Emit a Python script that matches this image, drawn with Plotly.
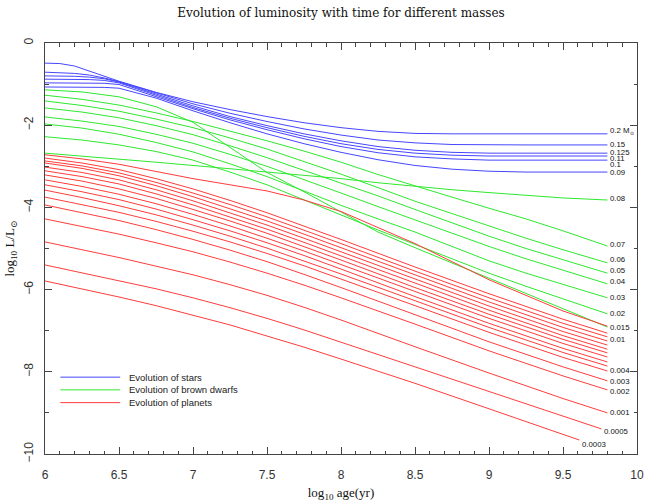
import plotly.graph_objects as go

# ---------------- data ----------------
ages_star = [6.0, 6.1, 6.2, 6.3, 6.4, 6.5, 6.75, 7.0, 7.25, 7.5, 7.75, 8.0, 8.25, 8.5, 8.75, 9.0, 9.25, 9.5, 9.8]
star_masses = ["0.2 M<sub>⊙</sub>", "0.15", "0.125", "0.11", "0.1", "0.09"]
star_lum = [
    [-0.49, -0.50, -0.56, -0.68, -0.81, -0.93, -1.20, -1.43, -1.62, -1.79, -1.94, -2.06, -2.15, -2.20, -2.21, -2.21, -2.21, -2.21, -2.21],
    [-0.71, -0.72, -0.74, -0.78, -0.85, -0.94, -1.21, -1.48, -1.71, -1.91, -2.09, -2.24, -2.36, -2.43, -2.47, -2.48, -2.48, -2.48, -2.48],
    [-0.80, -0.80, -0.81, -0.83, -0.87, -0.95, -1.24, -1.53, -1.79, -2.01, -2.21, -2.38, -2.52, -2.61, -2.66, -2.68, -2.68, -2.68, -2.68],
    [-0.88, -0.88, -0.88, -0.89, -0.91, -0.97, -1.27, -1.57, -1.83, -2.06, -2.27, -2.45, -2.59, -2.68, -2.73, -2.75, -2.75, -2.75, -2.75],
    [-0.97, -0.97, -0.97, -0.97, -0.98, -1.01, -1.30, -1.60, -1.87, -2.11, -2.33, -2.52, -2.67, -2.77, -2.82, -2.85, -2.85, -2.85, -2.85],
    [-1.07, -1.07, -1.07, -1.07, -1.08, -1.10, -1.34, -1.65, -1.94, -2.21, -2.45, -2.66, -2.84, -2.98, -3.07, -3.12, -3.14, -3.14, -3.14],
]
star_label_shift = [3, 0, 1, -2, -4, 0]

ages_bd = [6.0, 6.25, 6.5, 6.75, 7.0, 7.25, 7.5, 7.75, 8.0, 8.25, 8.5, 8.75, 9.0, 9.25, 9.5, 9.8]
bd_masses = ["0.015", "0.07", "0.06", "0.05", "0.04", "0.03", "0.02", "0.08"]
bd_lum = [
    [-1.14, -1.19, -1.31, -1.55, -1.93, -2.55, -3.15, -3.62, -4.12, -4.60, -4.98, -5.35, -5.72, -6.10, -6.47, -6.91],
    [-1.27, -1.37, -1.51, -1.70, -1.91, -2.14, -2.38, -2.63, -2.90, -3.20, -3.48, -3.75, -4.02, -4.28, -4.57, -4.94],
    [-1.41, -1.52, -1.66, -1.85, -2.06, -2.31, -2.58, -2.88, -3.19, -3.52, -3.85, -4.15, -4.45, -4.75, -5.03, -5.35],
    [-1.58, -1.68, -1.82, -2.01, -2.23, -2.50, -2.79, -3.10, -3.40, -3.72, -4.05, -4.38, -4.70, -5.00, -5.28, -5.60],
    [-1.80, -1.90, -2.03, -2.22, -2.44, -2.71, -3.00, -3.32, -3.65, -3.98, -4.30, -4.62, -4.95, -5.25, -5.53, -5.86],
    [-1.97, -2.07, -2.22, -2.42, -2.65, -2.94, -3.25, -3.60, -3.95, -4.28, -4.60, -4.95, -5.30, -5.60, -5.88, -6.20],
    [-2.28, -2.36, -2.48, -2.64, -2.85, -3.14, -3.45, -3.82, -4.20, -4.55, -4.90, -5.25, -5.60, -5.92, -6.23, -6.59],
    [-2.68, -2.75, -2.82, -2.90, -2.98, -3.06, -3.14, -3.22, -3.30, -3.40, -3.49, -3.57, -3.64, -3.71, -3.77, -3.82],
]
bd_label_shift = [0, 2, 3, 3, 2, 0, 0, 2]

ages_pl = [6.0, 6.25, 6.5, 6.75, 7.0, 7.25, 7.5, 7.75, 8.0, 8.5, 9.0, 9.5, 9.8]
ages_pl_0005 = [6.0, 6.25, 6.5, 6.75, 7.0, 7.25, 7.5, 7.75, 8.0, 8.5, 9.0, 9.5, 9.76]
ages_pl_0003 = [6.0, 6.25, 6.5, 6.75, 7.0, 7.25, 7.5, 7.75, 8.0, 8.5, 9.0, 9.5, 9.61]
pl_masses = [None, None, None, "0.01", None, None, None, None, None, None,
             "0.004", "0.003", "0.002", "0.001", "0.0005", "0.0003"]
pl_lum = [
    [-2.72, -2.82, -2.95, -3.12, -3.30, -3.45, -3.60, -3.82, -4.10, -4.88, -5.76, -6.52, -6.89],
    [-2.80, -2.92, -3.08, -3.30, -3.55, -3.83, -4.13, -4.45, -4.78, -5.45, -6.10, -6.72, -7.06],
    [-2.87, -2.99, -3.16, -3.39, -3.65, -3.93, -4.23, -4.55, -4.88, -5.55, -6.20, -6.82, -7.15],
    [-2.92, -3.05, -3.23, -3.47, -3.74, -4.03, -4.33, -4.65, -4.98, -5.65, -6.30, -6.92, -7.25],
    [-3.02, -3.15, -3.33, -3.57, -3.84, -4.13, -4.43, -4.75, -5.08, -5.75, -6.40, -7.02, -7.35],
    [-3.11, -3.25, -3.43, -3.67, -3.94, -4.23, -4.53, -4.85, -5.18, -5.85, -6.50, -7.12, -7.45],
    [-3.21, -3.36, -3.55, -3.78, -4.05, -4.33, -4.63, -4.95, -5.28, -5.95, -6.60, -7.21, -7.54],
    [-3.33, -3.49, -3.68, -3.91, -4.17, -4.45, -4.75, -5.06, -5.39, -6.05, -6.70, -7.31, -7.64],
    [-3.45, -3.62, -3.81, -4.04, -4.30, -4.57, -4.86, -5.17, -5.50, -6.17, -6.82, -7.43, -7.76],
    [-3.58, -3.76, -3.96, -4.18, -4.43, -4.70, -4.99, -5.30, -5.62, -6.27, -6.92, -7.53, -7.86],
    [-3.75, -3.93, -4.12, -4.34, -4.58, -4.84, -5.12, -5.42, -5.74, -6.39, -7.04, -7.65, -7.98],
    [-3.94, -4.13, -4.32, -4.54, -4.78, -5.04, -5.32, -5.63, -5.95, -6.61, -7.27, -7.88, -8.22],
    [-4.28, -4.46, -4.65, -4.86, -5.08, -5.33, -5.60, -5.89, -6.20, -6.84, -7.49, -8.10, -8.44],
    [-4.84, -5.03, -5.22, -5.43, -5.64, -5.88, -6.14, -6.43, -6.74, -7.39, -8.03, -8.65, -9.00],
    [-5.40, -5.59, -5.78, -5.98, -6.20, -6.44, -6.70, -6.98, -7.28, -7.88, -8.48, -9.08, -9.39],
    [-5.79, -5.98, -6.18, -6.39, -6.62, -6.86, -7.13, -7.40, -7.69, -8.28, -8.90, -9.52, -9.66],
]
pl_label_shift = [0, 0, 0, 1, 0, 0, 0, 0, 0, 0, 0, -1, -2, 0, -3, -4]
pl_ages = [ages_pl] * 14 + [ages_pl_0005, ages_pl_0003]

legend_labels = ["Evolution of stars", "Evolution of brown dwarfs", "Evolution of planets"]
x_ticks = [6, 6.5, 7, 7.5, 8, 8.5, 9, 9.5, 10]
y_ticks = [0, -2, -4, -6, -8, -10]
y_ticktext = ["0", "−2", "−4", "−6", "−8", "−10"]

# ---------------- style ----------------
C_STAR = "#4646ff"
C_BD = "#2ee82e"
C_PL = "#ff3c3c"
SANS = "Liberation Sans, Arial, sans-serif"
SERIF = "Liberation Serif, DejaVu Serif, serif"

fig = go.Figure()
annotations = []


def add_group(ages_list, lums, labels, shifts, color, group):
    for ages, lum, lab, sh in zip(ages_list, lums, labels, shifts):
        fig.add_trace(go.Scatter(x=ages, y=lum, mode="lines",
                                 line=dict(color=color, width=1),
                                 showlegend=False, hoverinfo="skip",
                                 legendgroup=group))
        if lab:
            annotations.append(dict(x=ages[-1], y=lum[-1], xref="x", yref="y",
                                    text=lab, showarrow=False, xanchor="left",
                                    yanchor="middle", xshift=1, yshift=sh,
                                    font=dict(family=SANS, size=7.8, color="#111")))


add_group([ages_star] * len(star_lum), star_lum, star_masses, star_label_shift, C_STAR, "stars")
add_group([ages_bd] * len(bd_lum), bd_lum, bd_masses, bd_label_shift, C_BD, "bd")
add_group(pl_ages, pl_lum, pl_masses, pl_label_shift, C_PL, "pl")

# custom legend (lines + text) in the lower left
shapes = []
leg_colors = [C_STAR, C_BD, C_PL]
for i, (lab, col) in enumerate(zip(legend_labels, leg_colors)):
    yp = 0.187 - i * 0.031
    shapes.append(dict(type="line", xref="paper", yref="paper",
                       x0=0.026, x1=0.127, y0=yp, y1=yp,
                       line=dict(color=col, width=1)))
    annotations.append(dict(x=0.139, y=yp, xref="paper", yref="paper", text=lab,
                            showarrow=False, xanchor="left", yanchor="middle",
                            font=dict(family=SANS, size=9.5, color="#222")))

fig.update_layout(
    width=645, height=502,
    margin=dict(l=45, r=8, t=43, b=48),
    paper_bgcolor="white", plot_bgcolor="white",
    title=dict(text="Evolution of luminosity with time for different masses",
               x=(45 + 637) / 2 / 645, xanchor="center", y=1 - 13 / 502, yanchor="middle",
               font=dict(family="DejaVu Serif, serif", size=12, color="#111")),
    showlegend=False,
    annotations=annotations,
    shapes=shapes,
    xaxis=dict(range=[6, 10], tickvals=x_ticks, ticktext=[f"{v:g}" for v in x_ticks],
               ticks="inside", ticklen=7, tickcolor="#444", showline=True, linecolor="#444",
               mirror="allticks", showgrid=False, zeroline=False, automargin=False,
               minor=dict(dtick=0.1, ticks="inside", ticklen=3.5, tickcolor="#444", showgrid=False),
               tickfont=dict(family=SANS, size=12, color="#333"), ticklabelstandoff=10,
               title=dict(text="log<sub>10</sub> age(yr)", standoff=10,
                          font=dict(family=SERIF, size=13, color="#111"))),
    yaxis=dict(range=[-10, 0], tickvals=y_ticks, ticktext=y_ticktext,
               ticks="inside", ticklen=7, tickcolor="#444", showline=True, linecolor="#444",
               mirror="allticks", showgrid=False, zeroline=False, tickangle=-90, automargin=False,
               minor=dict(dtick=1, ticks="inside", ticklen=3.5, tickcolor="#444", showgrid=False),
               tickfont=dict(family=SANS, size=12, color="#333"), ticklabelstandoff=6,
               title=dict(text="log<sub>10</sub> L/L<sub>⊙</sub>", standoff=4,
                          font=dict(family=SERIF, size=13, color="#111"))),
)

fig.write_html("out.html")
